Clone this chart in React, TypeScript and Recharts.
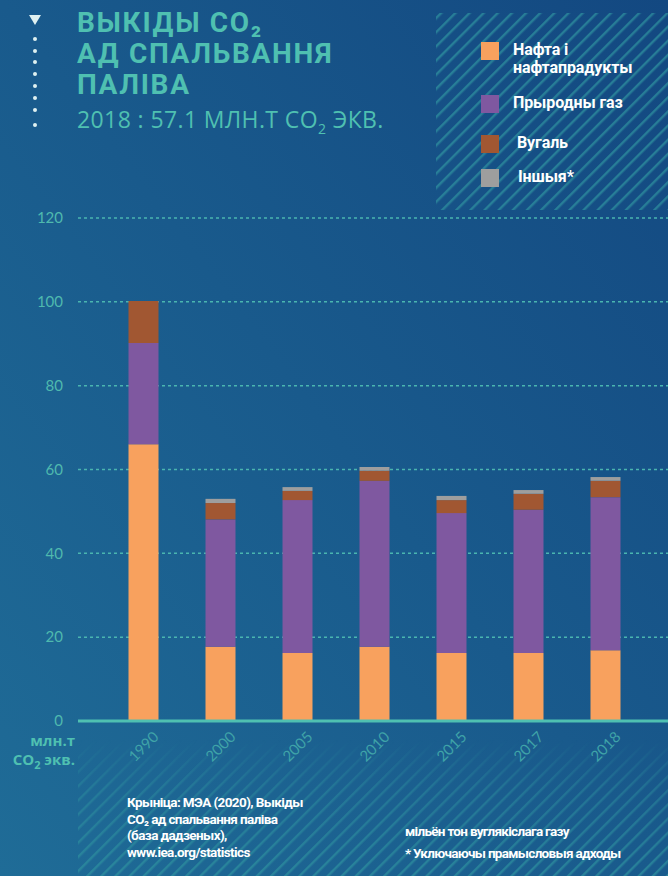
import React from "react";
import { BarChart, Bar, XAxis, YAxis, CartesianGrid } from "recharts";

const years = ["1990", "2000", "2005", "2010", "2015", "2017", "2018"];
const oil = [66.0, 17.7, 16.2, 17.7, 16.2, 16.2, 16.9];
const gas = [24.2, 30.4, 36.5, 39.6, 33.4, 34.2, 36.5];
const coal = [10.0, 3.9, 2.2, 2.4, 3.1, 3.8, 3.9];
const other = [0.0, 1.0, 0.9, 0.9, 1.0, 0.9, 0.9];
const yTicks = [0, 20, 40, 60, 80, 100, 120];

const seriesNames = ["Нафта і нафтапрадукты", "Прыродны газ", "Вугаль", "Іншыя*"];
const seriesKeys = ["oil", "gas", "coal", "other"];
const seriesColors = ["#f8a15e", "#7f58a0", "#a15732", "#9e9e9e"];

const data = years.map((y, i) => ({ year: y, oil: oil[i], gas: gas[i], coal: coal[i], other: other[i] }));

const TEAL = "#4fc0b1";

const XTick = (props: any) => {
  const { x, y, payload } = props;
  const cy = y + 17;
  return (
    <text
      x={x}
      y={cy}
      textAnchor="middle"
      dominantBaseline="central"
      transform={`rotate(-45, ${x}, ${cy})`}
      fill="#3fa3a8"
      fontFamily="Lato, 'Open Sans', sans-serif"
      fontSize={15}
    >
      {payload.value}
    </text>
  );
};

export default function App() {
  const dots = [39, 51, 62, 74, 86, 98, 110, 125];
  const titleLines = ["ВЫКІДЫ CO₂", "АД СПАЛЬВАННЯ", "ПАЛІВА"];
  return (
    <div style={{ position: "absolute", left: 0, top: 0, width: 668, height: 876, overflow: "hidden" }}>
      <svg width={668} height={876} style={{ position: "absolute", left: 0, top: 0 }}>
        <defs>
          <linearGradient id="bg" x1="0" y1="1" x2="1" y2="0">
            <stop offset="0" stopColor="#1f6c97" />
            <stop offset="1" stopColor="#134881" />
          </linearGradient>
          <pattern id="hatch" width="10" height="10" patternUnits="userSpaceOnUse" patternTransform="rotate(45)">
            <rect x="0" y="0" width="2.4" height="10" fill="#2f93a0" fillOpacity="0.7" />
          </pattern>
          <linearGradient id="fadeG" x1="0" y1="0" x2="0" y2="1">
            <stop offset="0" stopColor="#fff" stopOpacity="0" />
            <stop offset="0.35" stopColor="#fff" stopOpacity="0.6" />
            <stop offset="1" stopColor="#fff" stopOpacity="1" />
          </linearGradient>
          <mask id="fadeM">
            <rect x="78" y="740" width="590" height="136" fill="url(#fadeG)" />
          </mask>
        </defs>
        <rect x="0" y="0" width="668" height="876" fill="url(#bg)" />
        <rect x="436" y="13" width="232" height="197" fill="url(#hatch)" />
        <rect x="78" y="740" width="590" height="136" fill="url(#hatch)" mask="url(#fadeM)" />
        <polygon points="29,15 41,15 35,25" fill="#dff1f1" />
        {dots.map((d) => (
          <circle key={d} cx={35} cy={d} r={2} fill="#dff1f1" />
        ))}
      </svg>

      <div style={{ position: "absolute", left: 0, top: 0 }}>
        <BarChart width={668} height={876} data={data} margin={{ top: 218, right: 0, left: 0, bottom: 125 }} barSize={30}>
          <CartesianGrid vertical={false} stroke="#4ab5b0" strokeDasharray="3 3" strokeWidth={1.5} />
          <YAxis
            width={78}
            domain={[0, 120]}
            ticks={yTicks}
            axisLine={false}
            tickLine={false}
            tickSize={0}
            tickMargin={15}
            tick={{ fill: "#4fb9ae", fontSize: 15, fontFamily: "Lato, 'Open Sans', sans-serif" }}
          />
          <XAxis
            dataKey="year"
            height={30}
            padding={{ left: 26.5, right: 24.5 }}
            axisLine={{ stroke: "#4fc0b1", strokeWidth: 3 }}
            tickLine={false}
            tick={<XTick />}
            interval={0}
          />
          {seriesKeys.map((k, i) => (
            <Bar key={k} dataKey={k} name={seriesNames[i]} stackId="a" fill={seriesColors[i]} isAnimationActive={false} />
          ))}
        </BarChart>
      </div>

      {titleLines.map((t, i) => (
        <div
          key={t}
          style={{
            position: "absolute",
            left: 77,
            top: 7 + i * 31,
            color: TEAL,
            fontFamily: "Roboto, sans-serif",
            fontWeight: 700,
            fontSize: 28,
            lineHeight: "31px",
            letterSpacing: 1.7,
            whiteSpace: "nowrap",
          }}
        >
          {t}
        </div>
      ))}
      <div
        style={{
          position: "absolute",
          left: 77,
          top: 104,
          color: TEAL,
          fontFamily: "'Open Sans', sans-serif",
          fontSize: 23,
          lineHeight: "30px",
          letterSpacing: 0.4,
          whiteSpace: "nowrap",
        }}
      >
        2018 : 57.1 МЛН.Т CO<sub style={{ fontSize: 14, verticalAlign: "-6px" }}>2</sub> ЭКВ.
      </div>

      {/* legend */}
      {[
        { top: 42, text: ["Нафта і", "нафтапрадукты"], tx: 513 },
        { top: 95, text: ["Прыродны газ"], tx: 513 },
        { top: 135, text: ["Вугаль"], tx: 517 },
        { top: 169, text: ["Іншыя*"], tx: 518 },
      ].map((it, i) => (
        <React.Fragment key={i}>
          <div style={{ position: "absolute", left: 481, top: it.top, width: 18, height: 18, background: seriesColors[i] }} />
          <div
            style={{
              position: "absolute",
              left: it.tx,
              top: it.top - 1,
              color: "#ffffff",
              fontFamily: "Roboto, sans-serif",
              fontWeight: 700,
              fontSize: 16,
              lineHeight: "18px",
              letterSpacing: -0.1,
              whiteSpace: "nowrap",
            }}
          >
            {it.text.map((t, j) => (
              <div key={j}>{t}</div>
            ))}
          </div>
        </React.Fragment>
      ))}

      <div
        style={{
          position: "absolute",
          right: 668 - 75,
          top: 731,
          color: TEAL,
          fontFamily: "'Open Sans', sans-serif",
          fontWeight: 700,
          fontSize: 15,
          lineHeight: "19px",
          textAlign: "right",
          whiteSpace: "nowrap",
        }}
      >
        <div>млн.т</div>
        <div>
          CO<sub style={{ fontSize: 11, verticalAlign: "-4px" }}>2</sub> экв.
        </div>
      </div>

      <div
        style={{
          position: "absolute",
          left: 127,
          top: 794,
          color: "#ffffff",
          fontFamily: "Roboto, sans-serif",
          fontWeight: 700,
          fontSize: 13.5,
          lineHeight: "16.5px",
          letterSpacing: -0.6,
          whiteSpace: "nowrap",
        }}
      >
        <div>Крыніца: МЭА (2020), Выкіды</div>
        <div>CO₂ ад спальвання паліва</div>
        <div>(база дадзеных),</div>
        <div>www.iea.org/statistics</div>
      </div>
      <div
        style={{
          position: "absolute",
          left: 405,
          top: 820,
          color: "#ffffff",
          fontFamily: "Roboto, sans-serif",
          fontWeight: 700,
          fontSize: 13.5,
          lineHeight: "22px",
          letterSpacing: -0.7,
          whiteSpace: "nowrap",
        }}
      >
        <div>мільён тон вуглякіслага газу</div>
        <div>* Уключаючы прамысловыя адходы</div>
      </div>
    </div>
  );
}
